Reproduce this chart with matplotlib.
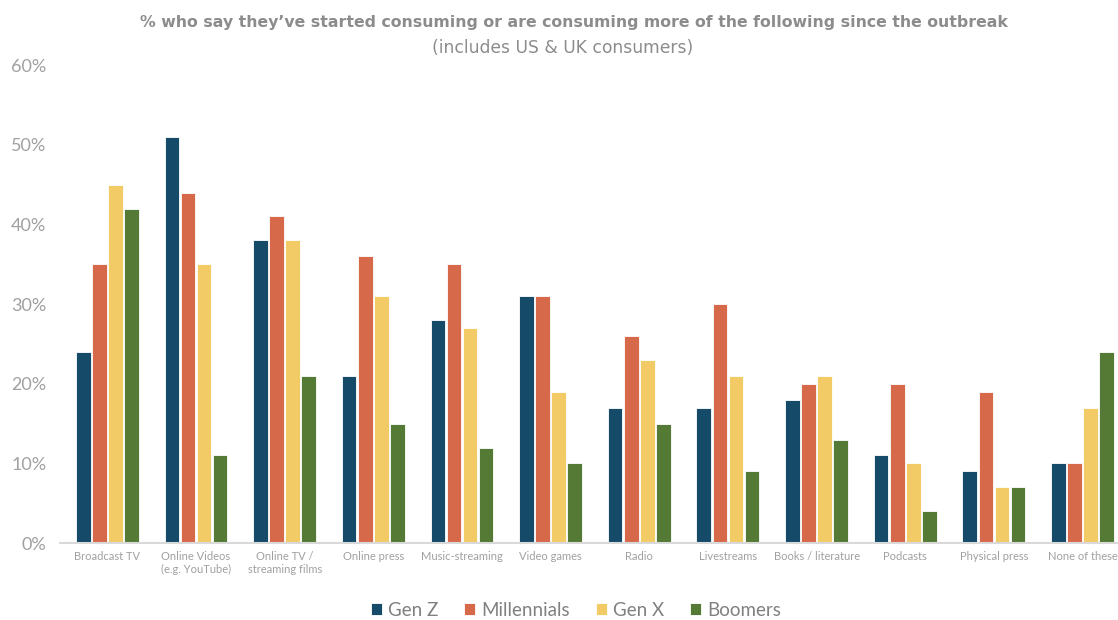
import numpy as np
import matplotlib.pyplot as plt
from matplotlib.ticker import FuncFormatter

plt.rcParams['font.family'] = ['Lato', 'DejaVu Sans']

categories = ['Broadcast TV', 'Online Videos\n(e.g. YouTube)', 'Online TV /\nstreaming films',
              'Online press', 'Music-streaming', 'Video games', 'Radio', 'Livestreams',
              'Books / literature', 'Podcasts', 'Physical press', 'None of these']
gen_z = [24, 51, 38, 21, 28, 31, 17, 17, 18, 11, 9, 10]
millennials = [35, 44, 41, 36, 35, 31, 26, 30, 20, 20, 19, 10]
gen_x = [45, 35, 38, 31, 27, 19, 23, 21, 21, 10, 7, 17]
boomers = [42, 11, 21, 15, 12, 10, 15, 9, 13, 4, 7, 24]

series = [('Gen Z', gen_z, '#154a68'), ('Millennials', millennials, '#d6694a'),
          ('Gen X', gen_x, '#f2cb67'), ('Boomers', boomers, '#557a36')]

grey = '#a0a0a0'
fig = plt.figure(figsize=(11.18, 6.2), dpi=100)
ax = fig.add_axes([0.054, 0.124, 0.946, 0.771])

x = np.arange(len(categories))
w = 0.165
for i, (name, vals, col) in enumerate(series):
    ax.bar(x + (i - 1.5) * w * 1.1, vals, w, color=col, label=name,
           edgecolor='white', linewidth=0.6, zorder=2)

ax.set_ylim(0, 60)
ax.set_xlim(-0.53, 11.4)
ax.set_yticks(range(0, 61, 10))
ax.yaxis.set_major_formatter(FuncFormatter(lambda v, p: '%d%%' % v))
ax.set_xticks(x)
ax.set_xticklabels(categories, fontsize=8, color=grey, linespacing=1.2)
ax.tick_params(axis='y', length=0, labelsize=13, labelcolor=grey, pad=10)
ax.tick_params(axis='x', length=0, pad=6)
for s in ['top', 'right', 'left']:
    ax.spines[s].set_visible(False)
ax.spines['bottom'].set_color('#d9d9d9')
ax.spines['bottom'].set_linewidth(1.5)

fig.text(0.513, 0.963, "% who say they\u2019ve started consuming or are consuming more of the following since the outbreak",
         ha='center', va='center', fontsize=11.3, fontweight='bold', color='#8c8c8c',
         family='DejaVu Sans')
fig.text(0.503, 0.923, '(includes US & UK consumers)', ha='center', va='center',
         fontsize=12.3, color='#8c8c8c', family='DejaVu Sans')

leg = fig.legend(loc='center', bbox_to_anchor=(0.515, 0.016), ncol=4, frameon=False,
                 fontsize=13.5, handlelength=0.6, handleheight=0.6, handletextpad=0.3,
                 columnspacing=1.4, bbox_transform=fig.transFigure)
for t in leg.get_texts():
    t.set_color('#808080')

fig.savefig('out.png', dpi=100)
